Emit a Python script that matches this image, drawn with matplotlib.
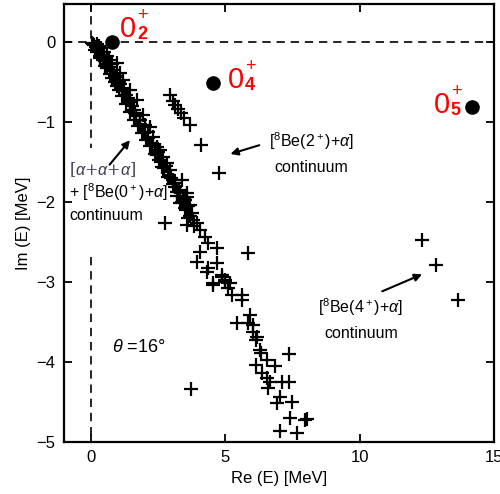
import matplotlib
matplotlib.use("Agg")
import matplotlib.pyplot as plt

plt.rcParams['font.family'] = ['Liberation Sans', 'DejaVu Sans']
plt.rcParams['mathtext.fontset'] = 'custom'
plt.rcParams['mathtext.rm'] = 'Liberation Sans'
plt.rcParams['mathtext.it'] = 'Liberation Sans:italic'
plt.rcParams['mathtext.bf'] = 'Liberation Sans:bold'

# rotated continuum, main band [a+a+a] + [8Be(0+)+a]
re_main = [0.05, 0.12, 0.2, 0.27, 0.35, 0.42, 0.49, 0.57, 0.64, 0.72, 0.79, 0.87, 0.94,
           1.01, 1.09, 1.16, 1.24, 1.31, 1.39, 1.46, 1.54, 1.61,
           0.1, 0.22, 0.3, 0.4, 0.5, 0.6, 0.7, 0.8,
           0.16, 0.35, 0.53, 0.72, 0.9, 1.05,
           0.98, 1.09, 1.2, 1.46, 1.72, 1.94, 2.2,
           0.25, 0.45, 0.62, 0.8, 0.98, 1.15, 1.3, 1.45, 1.6, 1.75, 1.9, 2.05, 2.2, 2.38,
           2.55, 2.72, 2.9, 3.05, 3.2, 3.4, 3.55, 3.7, 3.85,
           0.35, 0.55, 0.75, 0.9, 1.05, 1.22, 1.38, 1.55, 1.7, 1.85, 2.0, 2.15, 2.3, 2.5,
           2.62, 2.8, 2.98, 3.15, 3.3, 3.45, 3.62,
           1.65, 1.83, 2.02, 2.13, 2.32, 2.28, 2.46, 2.58, 2.46, 2.69, 2.84, 2.65, 2.95,
           2.87, 3.06, 3.39, 3.13, 3.32, 3.58, 3.51, 3.69,
           3.21, 3.58, 3.32, 3.51, 3.77, 3.62, 3.8, 3.95, 3.58, 4.06, 4.25, 4.36, 4.7,
           4.06, 3.95, 4.7, 4.36, 4.88, 4.99, 4.55, 5.18, 2.76, 5.85,
           4.32, 4.55, 4.88, 4.99, 5.1, 5.25, 5.62, 5.62, 5.44, 5.92, 5.85, 6.03, 6.03,
           6.18, 6.29,
           6.15, 6.33, 6.55, 6.15, 6.85, 7.37, 6.37, 6.55, 6.67, 6.59, 7.11, 7.37, 7.04,
           6.93, 7.48, 7.41, 7.97, 8.04, 7.04, 7.67, 3.73]
im_main = [-0.01, -0.04, -0.06, -0.09, -0.12, -0.16, -0.2, -0.24, -0.27, -0.31, -0.35, -0.4, -0.44,
           -0.49, -0.53, -0.57, -0.61, -0.66, -0.7, -0.75, -0.8, -0.85,
           -0.02, -0.03, -0.05, -0.08, -0.12, -0.17, -0.22, -0.27,
           -0.1, -0.2, -0.3, -0.4, -0.5, -0.6,
           -0.26, -0.39, -0.48, -0.6, -0.73, -0.91, -1.06,
           -0.13, -0.22, -0.33, -0.45, -0.55, -0.68, -0.78, -0.88, -0.97, -1.05, -1.14, -1.22, -1.3, -1.4,
           -1.48, -1.58, -1.66, -1.78, -1.92, -2.0, -2.1, -2.18, -2.3,
           -0.17, -0.24, -0.36, -0.42, -0.5, -0.6, -0.73, -0.85, -0.92, -1.02, -1.12, -1.2, -1.27, -1.38,
           -1.5, -1.55, -1.7, -1.76, -1.85, -1.95, -2.05,
           -0.89, -0.98, -1.04, -1.13, -1.19, -1.26, -1.31, -1.35, -1.41, -1.44, -1.51, -1.56, -1.6,
           -1.69, -1.73, -1.73, -1.81, -1.88, -1.89, -1.98, -2.04,
           -1.88, -1.94, -2.01, -2.08, -2.14, -2.2, -2.23, -2.26, -2.29, -2.35, -2.44, -2.51, -2.58,
           -2.63, -2.75, -2.76, -2.83, -2.91, -2.98, -3.04, -3.01, -2.26, -2.64,
           -2.88, -3.01, -2.94, -3.0, -3.08, -3.16, -3.16, -3.23, -3.51, -3.41, -3.51, -3.54, -3.63,
           -3.69, -3.85,
           -3.73, -3.89, -3.98, -4.04, -4.05, -3.9, -4.14, -4.2, -4.25, -4.33, -4.25, -4.25, -4.44,
           -4.51, -4.5, -4.7, -4.73, -4.71, -4.86, -4.89, -4.34]

# [8Be(2+)+a] continuum
re_2p = [2.95, 3.06, 3.13, 3.24, 3.36, 3.47, 3.69, 4.1, 4.77]
im_2p = [-0.66, -0.74, -0.79, -0.84, -0.89, -0.95, -1.04, -1.29, -1.64]

# [8Be(4+)+a] continuum
re_4p = [12.31, 12.83, 13.65]
im_4p = [-2.48, -2.79, -3.23]

# resonances
res_re = [0.79, 4.55, 14.2]
res_im = [0.0, -0.51, -0.81]
res_idx = ['2', '4', '5']
lab_re = [1.09, 5.1, 12.75]
lab_im = [0.06, -0.575, -0.89]

fig = plt.figure(figsize=(5, 4.94), dpi=100)
ax = fig.add_axes([0.128, 0.1053, 0.86, 0.8866])

ax.axhline(0, color='black', ls=(0, (5, 3.5)), lw=1.2, zorder=1)
ax.vlines(0, 0.5, -1.33, color='black', ls=(0, (5, 3.5)), lw=1.2, zorder=1)
ax.vlines(0, -2.69, -5.1, color='black', ls=(0, (5, 3.5)), lw=1.2, zorder=1)

cross = dict(marker='+', ls='none', color='black', ms=10, mew=1.6)
ax.plot(re_main, im_main, **cross)
ax.plot(re_2p, im_2p, **cross)
ax.plot(re_4p, im_4p, **cross)

ax.plot(res_re, res_im, 'o', color='black', ms=9.5)
for x, y, n in zip(lab_re, lab_im, res_idx):
    ax.text(x, y, '0', color='red', fontsize=21, ha='left', va='baseline')
    ax.annotate('+', (x, y), xytext=(12.5, 12.5), textcoords='offset points',
                color='red', fontsize=13, va='baseline')
    ax.annotate(n, (x, y), xytext=(12.5, -1.5), textcoords='offset points',
                color='red', fontsize=13, weight='bold', va='baseline')

# annotations
ax.text(-0.8, -1.66, r'[$\alpha$+$\alpha$+$\alpha$]', fontsize=11.5, color='#3a3a50', family='DejaVu Serif')
ax.text(-0.8, -1.95, r'+ [$^8$Be(0$^+$)+$\alpha$]', fontsize=11.5)
ax.text(-0.8, -2.23, 'continuum', fontsize=11.5)
ax.annotate('', xy=(1.53, -1.2), xytext=(0.64, -1.56),
            arrowprops=dict(arrowstyle='-|>', color='black', lw=1.5, mutation_scale=11))

ax.text(8.2, -1.31, r'[$^8$Be(2$^+$)+$\alpha$]', fontsize=11.5, ha='center')
ax.text(8.2, -1.63, 'continuum', fontsize=11.5, ha='center')
ax.annotate('', xy=(5.1, -1.41), xytext=(6.37, -1.28),
            arrowprops=dict(arrowstyle='-|>', color='black', lw=1.5, mutation_scale=11))

ax.text(10.05, -3.39, r'[$^8$Be(4$^+$)+$\alpha$]', fontsize=11.5, ha='center')
ax.text(10.05, -3.7, 'continuum', fontsize=11.5, ha='center')
ax.annotate('', xy=(12.42, -2.89), xytext=(10.75, -3.13),
            arrowprops=dict(arrowstyle='-|>', color='black', lw=1.5, mutation_scale=11))

ax.text(0.8, -3.88, r'$\theta$ =16$\degree$', fontsize=13)

ax.set_xlim(-0.99, 15)
ax.set_ylim(-5, 0.475)
ax.set_xticks([0, 5, 10, 15])
ax.set_yticks([-5, -4, -3, -2, -1, 0])
ax.tick_params(direction='in', top=True, right=True, length=6, width=1.3, labelsize=12, pad=6)
for s in ax.spines.values():
    s.set_linewidth(1.6)
ax.set_xlabel('Re (E) [MeV]', fontsize=12, labelpad=4)
ax.set_ylabel('Im (E) [MeV]', fontsize=12, labelpad=4)

fig.savefig('out.png', dpi=100)
